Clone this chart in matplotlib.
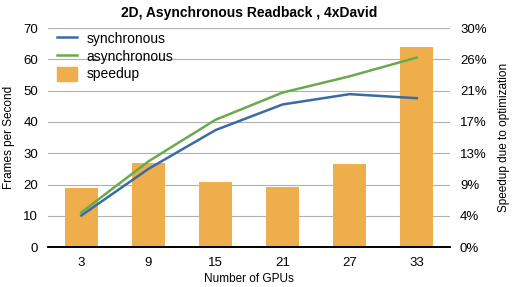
import numpy as np
import matplotlib.pyplot as plt
from matplotlib.patches import Patch
from matplotlib.lines import Line2D
from matplotlib.ticker import FuncFormatter

plt.rcParams['font.family'] = ['Liberation Sans', 'DejaVu Sans']

gpus = ['3', '9', '15', '21', '27', '33']
synchronous = [10.1, 25.0, 37.4, 45.6, 48.9, 47.6]
asynchronous = [11.1, 27.4, 40.7, 49.4, 54.6, 60.6]
speedup = [8.1, 11.5, 8.9, 8.2, 11.4, 27.4]  # percent

c_sync = '#3c6aa3'
c_async = '#6aaa4e'
c_bar = '#eeae4b'

fig = plt.figure(figsize=(5.14, 2.87), dpi=100)
ax = fig.add_axes([0.093, 0.139, 0.783, 0.763])
ax2 = ax.twinx()
# lines in front of bars
ax.set_zorder(ax2.get_zorder() + 1)
ax.patch.set_visible(False)

x = np.arange(len(gpus))
ax2.bar(x, speedup, width=0.5, color=c_bar, zorder=2)
ax2.set_ylim(0, 30)
ax2.set_yticks(np.linspace(0, 30, 8))
ax2.yaxis.set_major_formatter(FuncFormatter(lambda v, p: '{:.0f}%'.format(v)))
ax2.grid(axis='y', color='#b0b0b0', linewidth=0.8, zorder=0)
ax2.set_axisbelow(True)
ax2.set_ylabel('Speedup due to optimization', fontsize=8.5, labelpad=8)

ax.plot(x, synchronous, color=c_sync, linewidth=1.8)
ax.plot(x, asynchronous, color=c_async, linewidth=1.8)
ax.set_ylim(0, 70)
ax.set_yticks(range(0, 71, 10))
ax.set_xlim(-0.5, 5.5)
ax.set_xticks(x)
ax.set_xticklabels(gpus)
ax.set_xlabel('Number of GPUs', fontsize=8.5, labelpad=3)
ax.set_ylabel('Frames per Second', fontsize=8.5, labelpad=6)
ax.set_title('2D, Asynchronous Readback , 4xDavid', fontsize=10, fontweight='bold', pad=8)

for a in (ax, ax2):
    for s in ('top', 'left', 'right'):
        a.spines[s].set_visible(False)
    a.spines['bottom'].set_color('black')
    a.spines['bottom'].set_linewidth(1.2)
    a.tick_params(length=0, labelsize=9.5, pad=7)

handles = [Line2D([], [], color=c_sync, linewidth=1.8),
           Line2D([], [], color=c_async, linewidth=1.8),
           Patch(color=c_bar)]
ax.legend(handles, ['synchronous', 'asynchronous', 'speedup'], loc='upper left',
          frameon=False, fontsize=10, handlelength=1.4, handleheight=1.2,
          labelspacing=0.2, handletextpad=0.7,
          borderaxespad=0.0, bbox_to_anchor=(0.01, 1.01))

fig.savefig('out.png', dpi=100)
